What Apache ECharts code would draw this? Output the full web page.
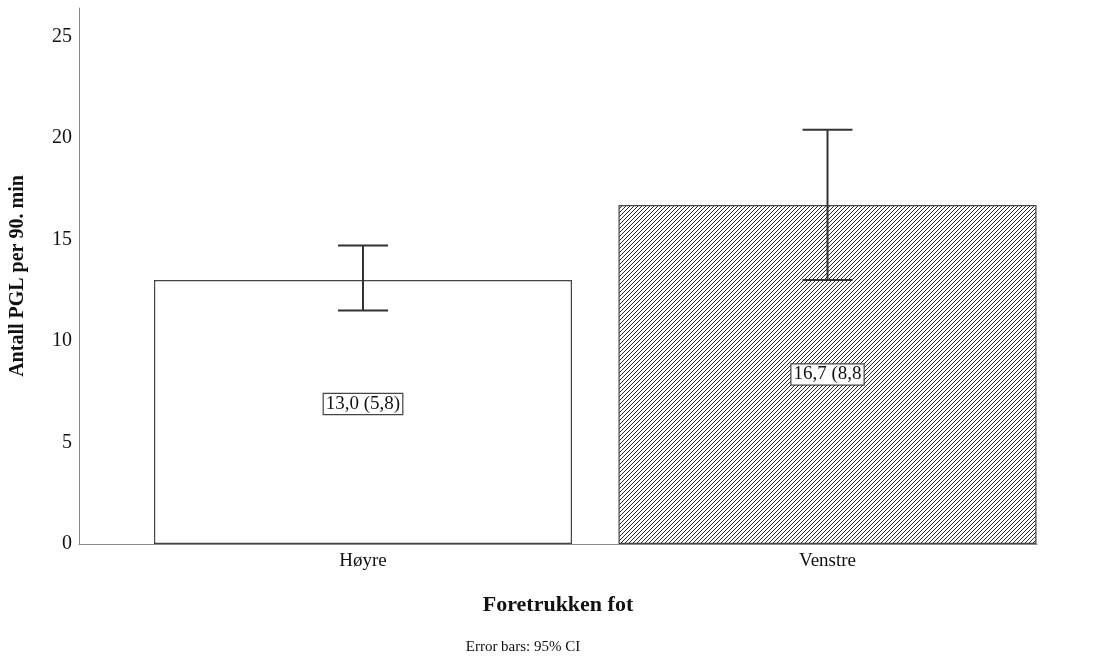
<!DOCTYPE html>
<html>
<head>
<meta charset="utf-8">
<script src="https://cdn.jsdelivr.net/npm/echarts@6/dist/echarts.min.js"></script>
<style>
  html, body { margin: 0; padding: 0; background: #fff; }
  #chart { width: 1104px; height: 657px; }
</style>
</head>
<body>
<div id="chart"></div>
<script>
// Mean goals per 90 min by preferred foot, with 95% CI error bars
const categories = ['Høyre', 'Venstre'];
const means = [13.0, 16.7];
const barLabels = ['13,0 (5,8)', '16,7 (8,8'];
const ciLow = [11.5, 13.0];
const ciHigh = [14.7, 20.4];
const yTicks = [0, 5, 10, 15, 20, 25];

const FONT = '"Liberation Serif", "Times New Roman", serif';

// diagonal hatch tile for the second bar
function hatchPattern() {
  const s = 4;
  const c = document.createElement('canvas');
  c.width = s; c.height = s;
  const g = c.getContext('2d');
  g.fillStyle = '#ffffff';
  g.fillRect(0, 0, s, s);
  g.strokeStyle = '#2a2a2a';
  g.lineWidth = 1.0;
  g.beginPath();
  g.moveTo(-1, s + 1); g.lineTo(s + 1, -1);
  g.moveTo(-1, 1); g.lineTo(1, -1);
  g.moveTo(s - 1, s + 1); g.lineTo(s + 1, s - 1);
  g.stroke();
  return { image: c, repeat: 'repeat' };
}

const barFills = ['#ffffff', hatchPattern()];
const labelOffsets = [[0, -8], [0, 0]];

const chart = echarts.init(document.getElementById('chart'), null, { renderer: 'canvas' });

chart.setOption({
  animation: false,
  backgroundColor: '#ffffff',
  grid: { left: 79, right: 67, top: 8, bottom: 113, containLabel: false },
  xAxis: {
    type: 'value',
    min: 0.3886,
    max: 2.451,
    axisLine: { show: true, lineStyle: { color: '#8a8a8a', width: 1 } },
    axisTick: { show: false },
    splitLine: { show: false },
    axisLabel: {
      customValues: [1, 2],
      formatter: v => categories[Math.round(v) - 1] || '',
      color: '#111', fontFamily: FONT, fontSize: 19, margin: 8
    },
    name: 'Foretrukken fot',
    nameLocation: 'middle',
    nameGap: 50,
    nameTextStyle: { color: '#111', fontFamily: FONT, fontSize: 22, fontWeight: 'bold' }
  },
  yAxis: {
    type: 'value',
    min: 0,
    max: 26.4,
    interval: 5,
    axisLine: { show: true, lineStyle: { color: '#8a8a8a', width: 1 } },
    axisTick: { show: false },
    splitLine: { show: false },
    axisLabel: {
      customValues: yTicks,
      formatter: v => (v % 5 === 0 ? String(v) : ''),
      color: '#111', fontFamily: FONT, fontSize: 20, margin: 7
    },
    name: 'Antall PGL per 90. min',
    nameLocation: 'middle',
    nameRotate: 90,
    nameGap: 51,
    nameTextStyle: { color: '#111', fontFamily: FONT, fontSize: 20, fontWeight: 'bold' }
  },
  series: [
    {
      type: 'bar',
      barWidth: 418,
      data: means.map((m, i) => ({
        value: [i + 1, m],
        itemStyle: { color: barFills[i], borderColor: '#444', borderWidth: 1.2 },
        label: { offset: labelOffsets[i] }
      })),
      label: {
        show: true,
        position: 'inside',
        formatter: p => barLabels[p.dataIndex],
        color: '#111',
        fontFamily: FONT,
        fontSize: 19,
        backgroundColor: '#ffffff',
        borderColor: '#444',
        borderWidth: 1.2,
        padding: [1, 2, 0, 2]
      },
      z: 2
    },
    {
      type: 'custom',
      z: 3,
      data: ciLow.map((lo, i) => [i + 1, lo, ciHigh[i]]),
      renderItem: (params, api) => {
        const x = api.value(0);
        const lo = api.coord([x, api.value(1)]);
        const hi = api.coord([x, api.value(2)]);
        const half = 25;
        const style = { stroke: '#333', lineWidth: 2 };
        return {
          type: 'group',
          children: [
            { type: 'line', shape: { x1: lo[0], y1: lo[1], x2: hi[0], y2: hi[1] }, style },
            { type: 'line', shape: { x1: hi[0] - half, y1: hi[1], x2: hi[0] + half, y2: hi[1] }, style },
            { type: 'line', shape: { x1: lo[0] - half, y1: lo[1], x2: lo[0] + half, y2: lo[1] }, style }
          ]
        };
      }
    }
  ],
  graphic: [
    {
      type: 'text',
      x: 523,
      y: 647,
      style: {
        text: 'Error bars: 95% CI',
        fill: '#111',
        font: '15px ' + FONT,
        align: 'center',
        verticalAlign: 'middle'
      }
    }
  ]
});
</script>
</body>
</html>
